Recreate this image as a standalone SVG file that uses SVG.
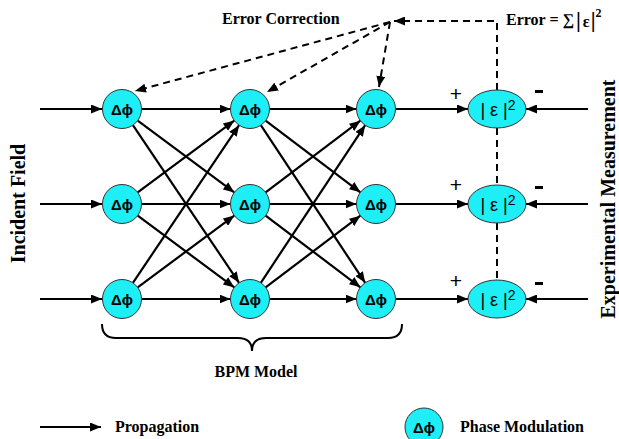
<svg xmlns="http://www.w3.org/2000/svg" width="619" height="439" viewBox="0 0 619 439">
<defs>
<marker id="ah" viewBox="0 0 11 9" refX="11" refY="4.5" markerWidth="11" markerHeight="9" markerUnits="userSpaceOnUse" orient="auto">
<path d="M0 0 L11 4.5 L0 9 Z" fill="#000"/>
</marker>
</defs>
<style>
.n{fill:#1eeef5;stroke:#333;stroke-width:1}
.e{stroke:#000;stroke-width:2.2;fill:none;marker-end:url(#ah)}
.d{stroke:#000;stroke-width:2;fill:none;stroke-dasharray:7 5}
.da{stroke:#000;stroke-width:2;fill:none;stroke-dasharray:7 5;marker-end:url(#ah)}
.p{font-family:"Liberation Sans",Arial,sans-serif;font-weight:bold;font-size:15px;text-anchor:middle;fill:#000}
.s{font-family:"Liberation Serif","Times New Roman",serif;font-weight:bold;font-size:16px;fill:#000}
.big{font-family:"Liberation Serif","Times New Roman",serif;font-weight:bold;font-size:20px;fill:#000;text-anchor:middle}
.q{font-family:"Liberation Sans",Arial,sans-serif;font-size:18px;text-anchor:middle;fill:#000}
.pm{font-family:"Liberation Sans",Arial,sans-serif;font-size:21px;text-anchor:middle;fill:#000}
</style>
<g id="connectors">
<path class="e" d="M40 109 L102 109"/>
<path class="e" d="M40 204 L102 204"/>
<path class="e" d="M40 299 L102 299"/>
<path class="e" d="M141.5 109 L230.5 109"/>
<path class="e" d="M137.7 120.6 L234.3 192.4"/>
<path class="e" d="M132.9 125.2 L239.1 282.8"/>
<path class="e" d="M137.7 192.4 L234.3 120.6"/>
<path class="e" d="M141.5 204 L230.5 204"/>
<path class="e" d="M137.7 215.6 L234.3 287.4"/>
<path class="e" d="M132.9 282.8 L239.1 125.2"/>
<path class="e" d="M137.7 287.4 L234.3 215.6"/>
<path class="e" d="M141.5 299 L230.5 299"/>
<path class="e" d="M269.5 109 L356.5 109"/>
<path class="e" d="M265.6 120.7 L360.4 192.3"/>
<path class="e" d="M260.8 125.2 L365.2 282.8"/>
<path class="e" d="M265.6 192.3 L360.4 120.7"/>
<path class="e" d="M269.5 204 L356.5 204"/>
<path class="e" d="M265.6 215.7 L360.4 287.3"/>
<path class="e" d="M260.8 282.8 L365.2 125.2"/>
<path class="e" d="M265.6 287.3 L360.4 215.7"/>
<path class="e" d="M269.5 299 L356.5 299"/>
<path class="e" d="M395.5 109 L468 109"/>
<path class="e" d="M395.5 204 L468 204"/>
<path class="e" d="M395.5 299 L468 299"/>
<path class="e" d="M588 109 L526 109"/>
<path class="e" d="M588 204 L526 204"/>
<path class="e" d="M588 299 L526 299"/>
<path class="d" d="M497 128 L497 185"/>
<path class="d" d="M497 223 L497 280"/>
<path class="da" d="M497 90 L497 21 L394 21"/>
<path class="da" d="M390 22 L135 91"/>
<path class="da" d="M390 22 L267 92"/>
<path class="da" d="M390 22 L379 87"/>
<path class="e" d="M40 427 L101 427"/>
<path d="M102 324 Q102 338 116 338 L238 338 Q252 338 252 351 Q252 338 266 338 L388 338 Q402 338 402 324" fill="none" stroke="#000" stroke-width="2"/>
</g>
<g id="n11"><circle class="n" cx="122" cy="109" r="19.5"/><text class="p" x="122" y="114.5">Δϕ</text></g>
<g id="n12"><circle class="n" cx="122" cy="204" r="19.5"/><text class="p" x="122" y="209.5">Δϕ</text></g>
<g id="n13"><circle class="n" cx="122" cy="299" r="19.5"/><text class="p" x="122" y="304.5">Δϕ</text></g>
<g id="n21"><circle class="n" cx="250" cy="109" r="19.5"/><text class="p" x="250" y="114.5">Δϕ</text></g>
<g id="n22"><circle class="n" cx="250" cy="204" r="19.5"/><text class="p" x="250" y="209.5">Δϕ</text></g>
<g id="n23"><circle class="n" cx="250" cy="299" r="19.5"/><text class="p" x="250" y="304.5">Δϕ</text></g>
<g id="n31"><circle class="n" cx="376" cy="109" r="19.5"/><text class="p" x="376" y="114.5">Δϕ</text></g>
<g id="n32"><circle class="n" cx="376" cy="204" r="19.5"/><text class="p" x="376" y="209.5">Δϕ</text></g>
<g id="n33"><circle class="n" cx="376" cy="299" r="19.5"/><text class="p" x="376" y="304.5">Δϕ</text></g>
<g id="e1"><ellipse class="n" cx="497" cy="109" rx="29" ry="19"/><text class="q" x="498" y="115.5">| ε |<tspan font-size="14" dy="-6">2</tspan></text></g>
<g id="e2"><ellipse class="n" cx="497" cy="204" rx="29" ry="19"/><text class="q" x="498" y="210.5">| ε |<tspan font-size="14" dy="-6">2</tspan></text></g>
<g id="e3"><ellipse class="n" cx="497" cy="299" rx="29" ry="19"/><text class="q" x="498" y="305.5">| ε |<tspan font-size="14" dy="-6">2</tspan></text></g>
<g id="signs">
<text class="pm" x="456" y="101">+</text>
<text class="pm" x="456" y="192">+</text>
<text class="pm" x="456" y="288">+</text>
<rect x="535" y="90" width="8" height="3" fill="#000"/>
<rect x="535" y="186" width="8" height="3" fill="#000"/>
<rect x="535" y="282" width="8" height="3" fill="#000"/>
</g>
<g id="labels">
<text class="s" x="222" y="24">Error Correction</text>
<text class="s" x="506" y="25">Error = ∑<tspan font-size="22" dy="2" dx="2">|</tspan><tspan dx="2">ε</tspan><tspan font-size="22" dx="1">|</tspan><tspan font-size="12" dy="-10">2</tspan></text>
<text class="big" transform="translate(25 203.5) rotate(-90)">Incident Field</text>
<text class="big" font-size="20.5" transform="translate(615 199) rotate(-90)">Experimental Measurement</text>
<text class="s" x="256" y="377" text-anchor="middle">BPM Model</text>
<text class="s" x="115" y="432">Propagation</text>
<text class="s" x="460" y="432">Phase Modulation</text>
</g>
<g id="legend-node"><circle class="n" cx="424" cy="427" r="19"/><text class="p" x="424" y="432.5">Δϕ</text></g>
</svg>
